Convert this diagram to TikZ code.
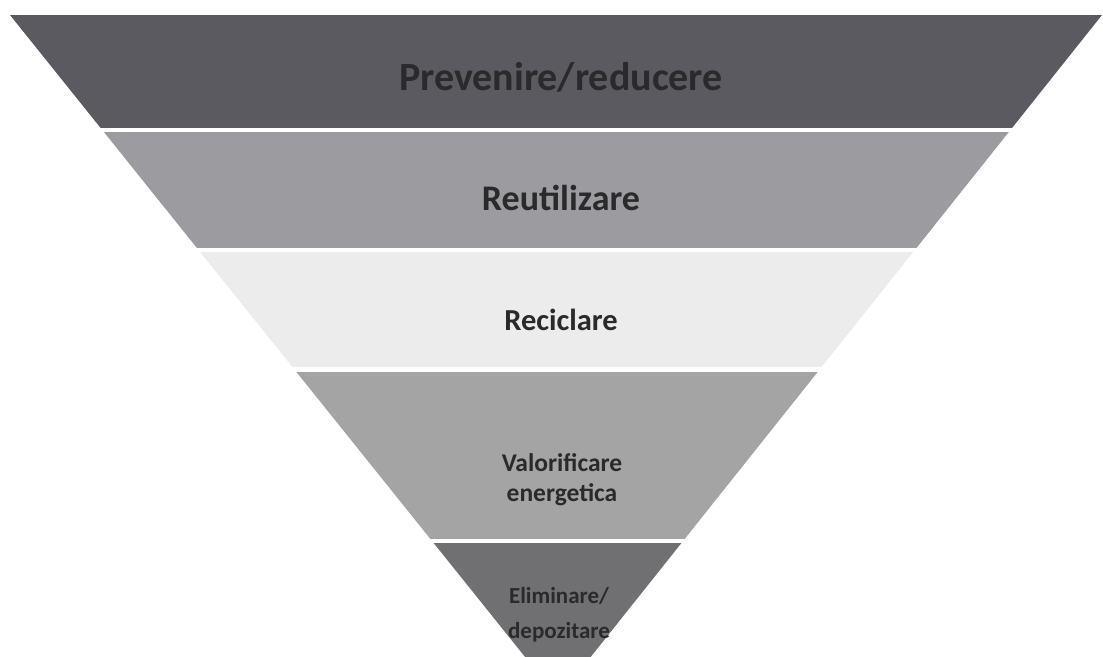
\documentclass[tikz,border=0pt]{standalone}
\usepackage{fontspec}
\setmainfont{Carlito}
\definecolor{prevfill}{HTML}{5A5A60}
\definecolor{reutfill}{HTML}{9C9CA0}
\definecolor{recifill}{HTML}{ECECEC}
\definecolor{valofill}{HTML}{A4A4A4}
\definecolor{elimfill}{HTML}{707072}
\definecolor{labeltext}{HTML}{2A2A2C}
\begin{document}
\begin{tikzpicture}[
  x=1pt, y=-1pt,
  band/.style={draw=none},
  label/.style={font=\bfseries, text=labeltext, align=center, inner sep=0pt}
]
\useasboundingbox (0,0) rectangle (1103,656);
\coordinate (tl) at (10,15);
\coordinate (tr) at (1102,15);
\coordinate (apex) at (558,698);
% bands of the inverted pyramid
\begin{scope}
  \clip (tl) -- (tr) -- (apex) -- cycle;
  \fill[band, prevfill] (0,15) rectangle (1103,128);
  \fill[band, reutfill] (0,132) rectangle (1103,248);
  \fill[band, recifill] (0,252) rectangle (1103,367);
  \fill[band, valofill] (0,372) rectangle (1103,539);
  \fill[band, elimfill] (0,543) rectangle (1103,700);
\end{scope}
% labels
\node[label, font=\bfseries\fontsize{40}{46}\selectfont] (prev) at (561,77) {Prevenire/reducere};
\node[label, font=\bfseries\fontsize{36}{42}\selectfont] (reut) at (561,198) {Reutilizare};
\node[label, font=\bfseries\fontsize{30.5}{36}\selectfont] (reci) at (561,320) {Reciclare};
\node[label, font=\bfseries\fontsize{25.5}{30}\selectfont] (valo) at (562,480) {Valorificare\\energetica};
\node[label, font=\bfseries\fontsize{23}{35}\selectfont] (elim) at (559,615) {Eliminare/\\depozitare};
\end{tikzpicture}
\end{document}
